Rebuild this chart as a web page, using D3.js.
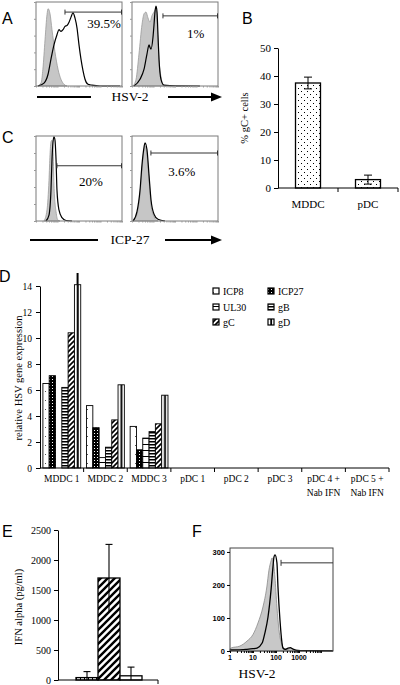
<!DOCTYPE html>
<html><head><meta charset="utf-8">
<script src="https://cdn.jsdelivr.net/npm/d3@7"></script>
<style>
body{margin:0;background:#fff}
svg{display:block}
text{font-family:"Liberation Serif","Times New Roman",serif;fill:#000}
</style>
</head><body>
<svg id="c" width="400" height="685"></svg>
<script>
// ================= DATA =================
// Panel A (HSV-2) flow histograms: [x % of box width, y % of box height]
const a1Control  = [[2,0],[6,4],[8,20],[10.5,55],[12.8,85],[14,92],[16.3,86],[18.6,67],[22,41],[25.6,20],[29,8],[32.6,2],[36,0]];
const a1Infected = [[2.3,0],[9.3,3.5],[14,14],[17.4,32],[20.9,49],[24.4,61],[26.7,67],[29.1,65],[31.4,67],[33.7,71],[36,72],[38.4,76],[40.7,82],[43,87],[45.3,81],[47.7,69],[50,49],[52.3,32],[54.7,18],[57,8],[60.5,2],[65,1],[74.4,0],[97.7,0]];
const a2Control  = [[1.2,0],[4.7,8],[8.1,38],[11.6,73],[14,86],[16.3,88],[18.6,81],[20.9,76],[23.3,84],[25.6,88],[27.9,92],[29.1,79],[30.2,55],[31.4,32],[33.7,11],[36,2],[39.5,0]];
const a2Infected = [[2.3,0],[9.3,8],[14,20],[17.4,38],[19.8,49],[20.9,46],[22.1,44],[24.4,58],[25.6,73],[26.7,88],[27.9,95],[29.1,88],[30.2,61],[31.4,32],[33.7,8],[37.2,1],[44,0.5],[79,0]];
// Panel C (ICP-27)
const c1Control  = [[9.3,0],[12.8,13],[15.1,48],[16.3,78],[17.4,93],[18.6,95],[19.8,84],[20.9,42],[23.3,11],[25.6,1],[27.9,0]];
const c1Infected = [[11.6,0],[15.1,7],[17.4,36],[18.6,72],[19.8,93],[20.9,99],[22.1,95],[23.3,72],[24.4,36],[26.7,13],[30.2,4],[34.9,0.6],[41.9,0]];
const c2Control  = [[1.2,0],[5.8,8],[9.3,31],[11.6,60],[14,84],[15.1,88],[17.4,78],[19.8,48],[22.1,19],[25.6,5],[30.2,0]];
const c2Infected = [[1.2,0],[5.8,11],[9.3,36],[11.6,66],[14,87],[15.1,92],[17.4,84],[19.8,54],[22.1,25],[25.6,8],[30.2,2],[38.4,0]];
// gates: start (% width), level (% height), label
const aGateStart = [33.7, 36];
const aGateLevel = [88, 83.5];
const aGateText  = ["39.5%", "1%"];
const cGateStart = [24.4, 22];
const cGateLevel = [65, 80];
const cGateText  = ["20%", "3.6%"];

// Panel B
const bCategories = ["MDDC", "pDC"];
const bValues = [37.5, 3.0];
const bErrors = [2.1, 1.6];
const bTicks = [0, 10, 20, 30, 40, 50];

// Panel D
const dCategories = ["MDDC 1", "MDDC 2", "MDDC 3", "pDC 1", "pDC 2", "pDC 3", "pDC 4 +\nNab IFN", "pDC 5 +\nNab IFN"];
const dGenes = ["ICP8", "ICP27", "UL30", "gB", "gC", "gD"];
const dICP8  = [6.5, 4.8, 3.2, 0, 0, 0, 0, 0];
const dICP27 = [7.1, 3.1, 1.4, 0, 0, 0, 0, 0];
const dUL30  = [0, 0.8, 2.3, 0, 0, 0, 0, 0];
const dgB    = [6.2, 1.6, 2.8, 0, 0, 0, 0, 0];
const dgC    = [10.4, 3.7, 3.4, 0, 0, 0, 0, 0];
const dgD    = [14.1, 6.4, 5.6, 0, 0, 0, 0, 0];
const dgDErr = [0.9, 0, 0, 0, 0, 0, 0, 0];
const dTicks = [0, 2, 4, 6, 8, 10, 12, 14];

// Panel E
const eValues = [40, 1700, 70];
const eErrors = [100, 560, 145];
const eTicks = [0, 500, 1000, 1500, 2000, 2500];

// Panel F: [fluorescence, count]
const fControl = [[1,5],[1.1,9],[2.7,15],[5.5,30],[10,50],[16.5,85],[27,133],[40,194],[49.5,245],[61,273],[67,282],[74,276],[90,224],[110,133],[135,64],[183,18],[247,6],[330,5],[420,8],[550,6],[750,3],[1500,1],[10000,1],[30000,1]];
const fInfected = [[1,3],[5,5],[10,7],[15,9],[25,24],[33,55],[45,103],[61,185],[74,255],[82,285],[91,291],[110,267],[122,194],[149,94],[183,24],[201,9],[250,5],[320,8],[420,10],[550,6],[800,2],[2000,1],[30000,0.5]];
const fGateStart = 166, fGateLevel = 267;
const fXTicks = [1, 10, 100, 1000];
const fYTicks = [0, 100, 200, 300];

// ================= DRAW =================
const svg = d3.select("#c");
const sans = '"Liberation Sans",Arial,sans-serif';
const defs = svg.append("defs");

function pattern(id, w, h, bg, draw, bbox) {
  const p = defs.append("pattern").attr("id", id).attr("width", w).attr("height", h);
  if (bbox) p.attr("patternUnits", "objectBoundingBox").attr("patternContentUnits", "objectBoundingBox");
  else p.attr("patternUnits", "userSpaceOnUse");
  p.append("rect").attr("width", w).attr("height", h).attr("fill", bg);
  draw(p);
}
pattern("pDots", 6, 6, "#fff", p => {
  p.append("rect").attr("x", 1).attr("y", 1).attr("width", 1).attr("height", 1).attr("fill", "#000");
  p.append("rect").attr("x", 4).attr("y", 4).attr("width", 1).attr("height", 1).attr("fill", "#000");
});
pattern("pICP8", 6, 9, "#fff", p => {
  p.append("rect").attr("x", 3).attr("y", 4).attr("width", 1).attr("height", 1).attr("fill", "#555");
});
pattern("pICP27", 3, 3, "#000", p => {
  p.append("rect").attr("x", 1).attr("y", 1).attr("width", 1).attr("height", 1).attr("fill", "#fff");
});
pattern("pUL30", 6, 6, "#fff", p => {
  p.append("rect").attr("x", 0).attr("y", 0).attr("width", 6).attr("height", 1).attr("fill", "#000");
});
pattern("pgB", 3, 3, "#fff", p => {
  p.append("rect").attr("x", 0).attr("y", 0).attr("width", 3).attr("height", 1.5).attr("fill", "#000");
});
pattern("pgC", 5, 5, "#fff", p => {
  p.append("path").attr("d", "M-1,6 L6,-1 M-1,1 L1,-1 M4,6 L6,4").attr("stroke", "#000").attr("stroke-width", 1.6);
});
pattern("pgD", 1, 1, "#fff", p => {
  p.append("rect").attr("x", 0.38).attr("y", 0).attr("width", 0.3).attr("height", 1).attr("fill", "#000");
}, true);
pattern("pDiagE", 7, 7, "#fff", p => {
  p.append("path").attr("d", "M-1,8 L8,-1 M-1,1 L1,-1 M6,8 L8,6").attr("stroke", "#000").attr("stroke-width", 2.4);
});
pattern("pHorizE", 4, 4, "#fff", p => {
  p.append("rect").attr("x", 0).attr("y", 0).attr("width", 4).attr("height", 1.3).attr("fill", "#000");
  p.append("rect").attr("x", 0).attr("y", 0).attr("width", 1).attr("height", 4).attr("fill", "#000");
});
const genePatterns = ["url(#pICP8)", "url(#pICP27)", "url(#pUL30)", "url(#pgB)", "url(#pgC)", "url(#pgD)"];

// panel letters
const letterPos = [[2, 23.5], [242, 23.5], [2, 143], [-1, 282], [2, 537], [192, 537]];
svg.selectAll("text.letter").data(["A", "B", "C", "D", "E", "F"]).join("text")
  .attr("class", "letter").attr("x", (d, i) => letterPos[i][0]).attr("y", (d, i) => letterPos[i][1])
  .style("font-family", sans).attr("font-size", 16).text(d => d);

// ---------- flow boxes (A, C) ----------
function flowBox(x0, y0, w, h, control, infected, gStart, gLevel, gText, tx, ty) {
  const g = svg.append("g");
  const x = d3.scaleLinear([0, 100], [x0, x0 + w]);
  const y = d3.scaleLinear([0, 100], [y0 + h, y0]);
  const area = d3.area().x(d => x(d[0])).y0(y(0)).y1(d => y(d[1])).curve(d3.curveMonotoneX);
  const line = d3.line().x(d => x(d[0])).y(d => y(d[1])).curve(d3.curveMonotoneX);
  g.append("path").attr("d", area(control)).attr("fill", "#c6c6c6").attr("stroke", "#9a9a9a").attr("stroke-width", 0.8);
  g.append("path").attr("d", line(infected)).attr("fill", "none").attr("stroke", "#000").attr("stroke-width", 1.2);
  g.append("rect").attr("x", x0).attr("y", y0).attr("width", w).attr("height", h)
    .attr("fill", "none").attr("stroke", "#7a7a7a").attr("stroke-width", 1);
  const la = g.append("g").attr("transform", `translate(${x0},0)`)
    .call(d3.axisLeft(y).ticks(5).tickSize(2).tickFormat(""));
  la.select(".domain").remove();
  la.selectAll("line").attr("stroke", "#999");
  const lx = d3.scaleLog([1, 1e4], [x0, x0 + w]);
  const ba = g.append("g").attr("transform", `translate(0,${y0 + h})`)
    .call(d3.axisBottom(lx).tickValues(lx.ticks()).tickSize(1.5).tickFormat(""));
  ba.select(".domain").remove();
  ba.selectAll("line").attr("stroke", "#999");
  // gate
  const gy = y(gLevel);
  g.append("line").attr("x1", x(gStart)).attr("x2", x(100)).attr("y1", gy).attr("y2", gy).attr("stroke", "#333").attr("stroke-width", 1);
  g.append("line").attr("x1", x(gStart)).attr("x2", x(gStart)).attr("y1", gy - 2.5).attr("y2", gy + 2.5).attr("stroke", "#333");
  g.append("line").attr("x1", x(100) - 0.5).attr("x2", x(100) - 0.5).attr("y1", gy - 2.5).attr("y2", gy + 2.5).attr("stroke", "#333");
  g.append("text").attr("x", x(tx)).attr("y", y(ty)).attr("text-anchor", "middle").attr("dy", "0.35em")
    .attr("font-size", 13).text(gText);
}
flowBox(36, 2, 86, 84, a1Control, a1Infected, aGateStart[0], aGateLevel[0], aGateText[0], 79, 74);
flowBox(132, 2, 86, 84, a2Control, a2Infected, aGateStart[1], aGateLevel[1], aGateText[1], 74, 63);
flowBox(36, 136, 86, 85, c1Control, c1Infected, cGateStart[0], cGateLevel[0], cGateText[0], 64, 46);
flowBox(132, 136, 86, 85, c2Control, c2Infected, cGateStart[1], cGateLevel[1], cGateText[1], 58, 58);

function axisArrow(y, l1, l2, r1, r2, label, lx) {
  svg.append("line").attr("x1", l1).attr("x2", l2).attr("y1", y).attr("y2", y).attr("stroke", "#000").attr("stroke-width", 2);
  svg.append("line").attr("x1", r1).attr("x2", r2 - 8).attr("y1", y).attr("y2", y).attr("stroke", "#000").attr("stroke-width", 2);
  svg.append("path").attr("d", `M${r2 - 11},${y - 4.5} L${r2},${y} L${r2 - 11},${y + 4.5} Z`).attr("fill", "#000");
  svg.append("text").attr("x", lx).attr("y", y).attr("dy", "0.3em").attr("text-anchor", "middle").attr("font-size", 13.5).text(label);
}
axisArrow(97, 37, 91, 168, 222, "HSV-2", 130);
axisArrow(240, 30, 98, 165, 222, "ICP-27", 130);

// ---------- Panel B ----------
{
  const g = svg.append("g");
  const y = d3.scaleLinear([0, 50], [188, 48]);
  const x = d3.scaleBand(bCategories, [278, 398]);
  const bw = 25;
  g.selectAll("rect.bar").data(bValues).join("rect")
    .attr("x", (d, i) => x(bCategories[i]) + x.bandwidth() / 2 - bw / 2).attr("width", bw)
    .attr("y", d => y(d)).attr("height", d => y(0) - y(d))
    .attr("fill", "url(#pDots)").attr("stroke", "#000").attr("stroke-width", 1.3);
  bValues.forEach((v, i) => {
    const cx = x(bCategories[i]) + x.bandwidth() / 2;
    const lo = y(v - bErrors[i]), hi = y(v + bErrors[i]);
    g.append("line").attr("x1", cx).attr("x2", cx).attr("y1", lo).attr("y2", hi).attr("stroke", "#000");
    [lo, hi].forEach(yy => g.append("line").attr("x1", cx - 4).attr("x2", cx + 4).attr("y1", yy).attr("y2", yy).attr("stroke", "#000"));
  });
  const ax = g.append("g").attr("transform", "translate(278,0)")
    .call(d3.axisLeft(y).tickValues(bTicks).tickSize(4).tickPadding(3).tickSizeOuter(0));
  ax.selectAll("text").style("font-family", '"Liberation Serif",serif').attr("font-size", 11);
  ax.selectAll("line,path").attr("stroke", "#000");
  g.append("line").attr("x1", 278).attr("x2", 398).attr("y1", 188).attr("y2", 188).attr("stroke", "#000");
  bCategories.forEach(c => {
    g.append("line").attr("x1", x(c) + x.bandwidth()).attr("x2", x(c) + x.bandwidth()).attr("y1", 188).attr("y2", 192).attr("stroke", "#000");
    g.append("text").attr("x", x(c) + x.bandwidth() / 2).attr("y", 204).attr("dy", "0.35em").attr("text-anchor", "middle").attr("font-size", 11).text(c);
  });
  g.append("text").attr("transform", "translate(248,118) rotate(-90)").attr("text-anchor", "middle").attr("font-size", 10.5).text("% gC+ cells");
}

// ---------- Panel D ----------
{
  const g = svg.append("g");
  const y = d3.scaleLinear([0, 14], [468, 286]);
  const x = d3.scaleBand(dCategories, [40, 389]);
  const xi = d3.scaleBand(dGenes, [0, x.bandwidth()]).paddingOuter(0.46);
  const series = [dICP8, dICP27, dUL30, dgB, dgC, dgD];
  series.forEach((vals, s) => {
    g.selectAll(null).data(vals.map((v, i) => ({ v, i })).filter(d => d.v > 0)).join("rect")
      .attr("x", d => x(dCategories[d.i]) + xi(dGenes[s])).attr("width", xi.bandwidth())
      .attr("y", d => y(d.v)).attr("height", d => y(0) - y(d.v))
      .attr("fill", genePatterns[s]).attr("stroke", "#000").attr("stroke-width", 0.9);
  });
  dgDErr.forEach((e, i) => {
    if (e > 0) {
      const cx = x(dCategories[i]) + xi("gD") + xi.bandwidth() / 2;
      g.append("line").attr("x1", cx).attr("x2", cx).attr("y1", y(dgD[i])).attr("y2", y(dgD[i] + e)).attr("stroke", "#000").attr("stroke-width", 2);
    }
  });
  const ax = g.append("g").attr("transform", "translate(40,0)")
    .call(d3.axisLeft(y).tickValues(dTicks).tickSize(4).tickPadding(4).tickSizeOuter(0));
  ax.selectAll("text").style("font-family", '"Liberation Serif",serif').attr("font-size", 9.5);
  ax.selectAll("line,path").attr("stroke", "#000");
  g.append("line").attr("x1", 40).attr("x2", 389).attr("y1", 468).attr("y2", 468).attr("stroke", "#000");
  dCategories.forEach(c => {
    g.append("line").attr("x1", x(c) + x.bandwidth()).attr("x2", x(c) + x.bandwidth()).attr("y1", 468).attr("y2", 472).attr("stroke", "#000");
    const t = g.append("text").attr("text-anchor", "middle").attr("font-size", 9.5);
    c.split("\n").forEach((ln, k) => t.append("tspan").attr("x", x(c) + x.bandwidth() / 2).attr("y", 482 + k * 14).text(ln));
  });
  g.append("text").attr("transform", "translate(22,378) rotate(-90)").attr("text-anchor", "middle").attr("font-size", 10.5)
    .text("relative HSV gene expression");
  // legend
  const lx = [213, 268], ly = [291, 307, 322];
  dGenes.forEach((gname, s) => {
    const cx = lx[s % 2], cy = ly[Math.floor(s / 2)];
    g.append("rect").attr("x", cx).attr("y", cy - 3).attr("width", 6).attr("height", 6)
      .attr("fill", genePatterns[s]).attr("stroke", "#000").attr("stroke-width", 1.2);
    g.append("text").attr("x", cx + 10).attr("y", cy).attr("dy", "0.35em").attr("font-size", 10).text(gname);
  });
}

// ---------- Panel E ----------
{
  const g = svg.append("g");
  const y = d3.scaleLinear([0, 2500], [680, 530]);
  const x = d3.scaleBand(d3.range(eValues.length), [76, 142]);
  const fills = ["url(#pHorizE)", "url(#pDiagE)", "#fff"];
  g.selectAll("rect.bar").data(eValues).join("rect")
    .attr("x", (d, i) => x(i)).attr("width", x.bandwidth())
    .attr("y", d => y(d)).attr("height", d => y(0) - y(d))
    .attr("fill", (d, i) => fills[i]).attr("stroke", "#000").attr("stroke-width", 1.3);
  eValues.forEach((v, i) => {
    const cx = x(i) + x.bandwidth() / 2;
    const lo = y(Math.max(0, v - eErrors[i])), hi = y(v + eErrors[i]);
    g.append("line").attr("x1", cx).attr("x2", cx).attr("y1", lo).attr("y2", hi).attr("stroke", "#000").attr("stroke-width", 1.1);
    g.append("line").attr("x1", cx - 3.5).attr("x2", cx + 3.5).attr("y1", hi).attr("y2", hi).attr("stroke", "#000").attr("stroke-width", 1.1);
  });
  const ax = g.append("g").attr("transform", "translate(58,0)")
    .call(d3.axisLeft(y).tickValues(eTicks).tickSize(4).tickPadding(3).tickSizeOuter(0).tickFormat(d3.format("d")));
  ax.selectAll("text").style("font-family", '"Liberation Serif",serif').attr("font-size", 10).attr("dy", "0.3em");
  ax.selectAll("line,path").attr("stroke", "#000");
  g.append("line").attr("x1", 58).attr("x2", 158).attr("y1", 680).attr("y2", 680).attr("stroke", "#000");
  g.append("line").attr("x1", 158).attr("x2", 158).attr("y1", 680).attr("y2", 684).attr("stroke", "#000");
  g.append("text").attr("transform", "translate(22,607) rotate(-90)").attr("text-anchor", "middle").attr("font-size", 10.5)
    .text("IFN alpha (pg/ml)");
}

// ---------- Panel F ----------
{
  const g = svg.append("g");
  const x = d3.scaleLog([1, Math.pow(10, 4.48)], [230, 333]);
  const y = d3.scaleLinear([0, 312], [651, 548]);
  const area = d3.area().x(d => x(d[0])).y0(y(0)).y1(d => y(d[1])).curve(d3.curveMonotoneX);
  const line = d3.line().x(d => x(d[0])).y(d => y(d[1])).curve(d3.curveMonotoneX);
  g.append("path").attr("d", area(fControl)).attr("fill", "#c8c8c8").attr("stroke", "#8a8a8a").attr("stroke-width", 0.8);
  g.append("path").attr("d", line(fInfected)).attr("fill", "none").attr("stroke", "#000").attr("stroke-width", 1.3);
  g.append("rect").attr("x", 230).attr("y", 548).attr("width", 103).attr("height", 103).attr("fill", "none").attr("stroke", "#444");
  const ya = g.append("g").attr("transform", "translate(230,0)")
    .call(d3.axisLeft(y).tickValues(fYTicks).tickSize(3).tickPadding(2).tickFormat(d3.format("d")));
  ya.select(".domain").remove();
  ya.selectAll("text").style("font-family", sans).attr("font-size", 7.5).attr("font-weight", "bold");
  const xa = g.append("g").attr("transform", "translate(0,651)")
    .call(d3.axisBottom(x).tickValues(x.ticks().filter(v => v < 1e4)).tickSize(2).tickFormat(""));
  xa.select(".domain").remove();
  fXTicks.forEach(v => g.append("text").attr("x", x(v)).attr("y", 658).attr("dy", "0.35em").attr("text-anchor", "middle")
    .style("font-family", sans).attr("font-size", 7).attr("font-weight", "bold").text(v));
  const gy = y(fGateLevel);
  g.append("line").attr("x1", x(fGateStart)).attr("x2", 333).attr("y1", gy).attr("y2", gy).attr("stroke", "#333");
  g.append("line").attr("x1", x(fGateStart)).attr("x2", x(fGateStart)).attr("y1", gy - 3).attr("y2", gy + 3).attr("stroke", "#333");
  g.append("text").attr("x", 257).attr("y", 673).attr("dy", "0.35em").attr("text-anchor", "middle").attr("font-size", 13.5).text("HSV-2");
}
</script>
</body></html>
